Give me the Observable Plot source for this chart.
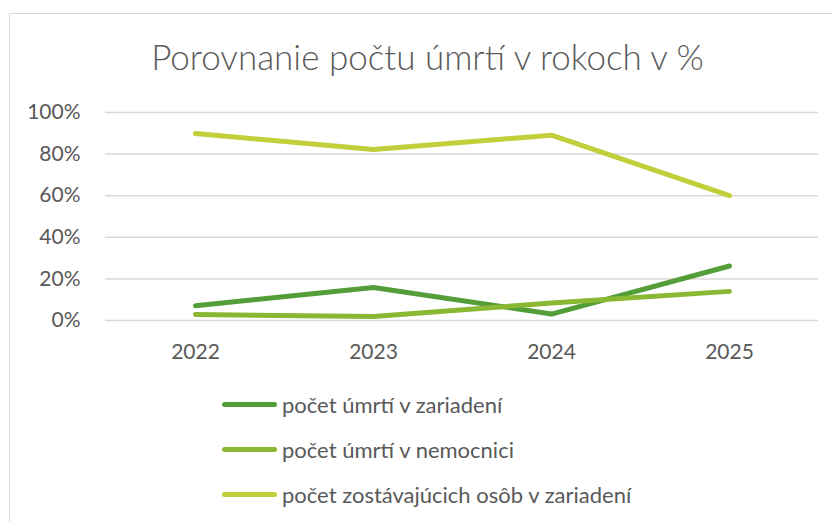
<!DOCTYPE html>
<html><head><meta charset="utf-8">
<script src="https://cdn.jsdelivr.net/npm/d3@7"></script>
<script src="https://cdn.jsdelivr.net/npm/@observablehq/plot@0.6"></script>
<style>
html,body{margin:0;padding:0;background:#fff;overflow:hidden;}
body{width:832px;height:522px;position:relative;font-family:Lato,"Open Sans",sans-serif;color:#595959;}
#frame{position:absolute;left:9px;top:13px;width:900px;height:600px;border:1.5px solid #d9d9d9;box-sizing:border-box;}
#title{position:absolute;left:0;top:39px;width:855px;text-align:center;font-size:35px;line-height:35px;font-weight:300;color:#595959;white-space:nowrap;}
#chart{position:absolute;left:0;top:95px;}
.leg{position:absolute;left:222px;height:30px;display:flex;align-items:center;font-size:22px;color:#595959;white-space:nowrap;}
.sw{display:inline-block;width:55px;height:5px;border-radius:3px;margin-right:5px;}
</style>
</head><body>
<div id="frame"></div>
<div id="title">Porovnanie počtu úmrtí v rokoch v %</div>
<div id="chart"></div>
<div id="legend"></div>
<script>
const years = ["2022", "2023", "2024", "2025"];
const seriesNames = ["počet úmrtí v zariadení", "počet úmrtí v nemocnici", "počet zostávajúcich osôb v zariadení"];
const umrtiaZariadenie = [0.071, 0.159, 0.031, 0.262];
const umrtiaNemocnica = [0.029, 0.019, 0.084, 0.140];
const zostavajuci = [0.899, 0.822, 0.891, 0.600];
const seriesColors = ["#549E39", "#8AB833", "#C0CF3A"];
const yTicks = [0, 0.2, 0.4, 0.6, 0.8, 1.0];

const seriesValues = [umrtiaZariadenie, umrtiaNemocnica, zostavajuci];
const data = [];
seriesNames.forEach((s, i) => years.forEach((y, j) => data.push({series: s, year: y, value: seriesValues[i][j]})));

const chart = Plot.plot({
  width: 832,
  height: 275,
  marginLeft: 105,
  marginRight: 14,
  marginTop: 17,
  marginBottom: 50,
  style: {fontFamily: "Lato, 'Open Sans', sans-serif", fontSize: "21px", color: "#595959", background: "transparent"},
  x: {type: "point", domain: years, padding: 0.5},
  y: {domain: [0, 1]},
  color: {domain: seriesNames, range: seriesColors},
  marks: [
    Plot.ruleY(yTicks, {stroke: "#d9d9d9", strokeWidth: 1.5, strokeOpacity: 1}),
    Plot.axisY({ticks: yTicks, tickFormat: d3.format(".0%"), tickSize: 0, tickPadding: 25, label: null}),
    Plot.axisX({tickSize: 0, tickPadding: 24, label: null}),
    Plot.line(data, {x: "year", y: "value", z: "series", stroke: "series", strokeWidth: 5, strokeLinecap: "round", strokeLinejoin: "round"})
  ]
});
document.getElementById("chart").appendChild(chart);

const legendY = [404, 449, 494];
const legend = document.getElementById("legend");
seriesNames.forEach((s, i) => {
  const row = document.createElement("div");
  row.className = "leg";
  row.style.top = (legendY[i] - 15) + "px";
  const sw = document.createElement("span");
  sw.className = "sw";
  sw.style.background = seriesColors[i];
  const tx = document.createElement("span");
  tx.textContent = s;
  row.appendChild(sw);
  row.appendChild(tx);
  legend.appendChild(row);
});
</script>
</body></html>
